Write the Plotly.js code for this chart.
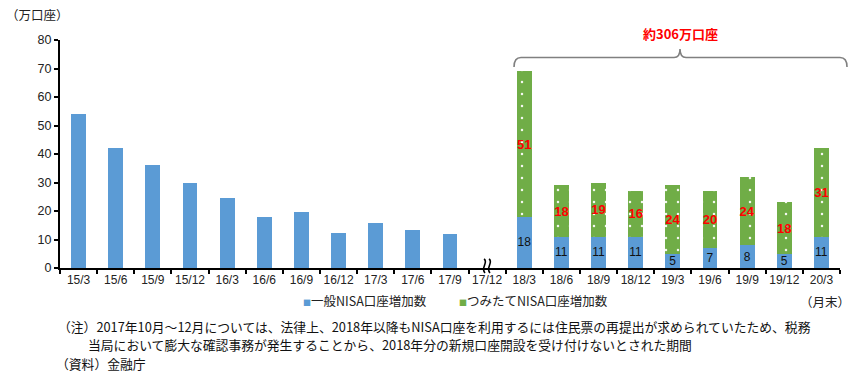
<!DOCTYPE html>
<html>
<head>
<meta charset="utf-8">
<script src="https://cdn.plot.ly/plotly-3.0.1.min.js"></script>
<style>
  html, body { margin: 0; padding: 0; background: #fff; }
  #chart { width: 853px; height: 374px; }
</style>
</head>
<body>
<div id="chart"></div>
<script>
// Month-end periods (year/month)
const months = ['15/3','15/6','15/9','15/12','16/3','16/6','16/9','16/12','17/3','17/6','17/9','17/12',
                '18/3','18/6','18/9','18/12','19/3','19/6','19/9','19/12','20/3'];

// Increase in general NISA accounts (10,000 accounts); 17/12 has no data
const generalNisa = [54, 42, 36, 30, 24.5, 17.8, 19.5, 12.2, 15.8, 13.2, 11.9, null,
                     18, 11, 11, 11, 5, 7, 8, 5, 11];

// Increase in tsumitate NISA accounts (from 2018)
const tsumitateNisa = [null, null, null, null, null, null, null, null, null, null, null, null,
                       51, 18, 19, 16, 24, 20, 24, 18, 31];

// Periods whose bars carry value labels
const labeledFrom = '18/3';

const seriesNames = ['一般NISA口座増加数', 'つみたてNISA口座増加数'];
const yTitle = '（万口座）';
const totalLabel = '約306万口座';
const unitLabel = '（月末）';
const notes = [
  '（注）2017年10月～12月については、法律上、2018年以降もNISA口座を利用するには住民票の再提出が求められていたため、税務',
  '当局において膨大な確認事務が発生することから、2018年分の新規口座開設を受け付けないとされた期間',
  '（資料）金融庁'
];

const BLUE = '#5B9BD5';
const GREEN = '#70AD47';
const JP = '"Noto Sans CJK JP", "Noto Sans", sans-serif';
const NUM = '"Liberation Sans", Arial, sans-serif';

const startIdx = months.indexOf(labeledFrom);
const generalText = generalNisa.map((v, i) => (i >= startIdx && v != null) ? String(v) : '');
const tsumitateText = tsumitateNisa.map(v => v != null ? String(v) : '');

// plot area geometry (pixels) used to place decorations in paper units
const L = 60, R = 840, T = 40, B = 268;
const px = x => (x - L) / (R - L);
const py = y => (B - y) / (B - T);
const P = (x, y) => px(x).toFixed(4) + ',' + py(y).toFixed(4);

const traces = [
  {
    type: 'bar', name: seriesNames[0], x: months, y: generalNisa,
    marker: { color: BLUE },
    text: generalText, textposition: 'inside', insidetextanchor: 'middle',
    textangle: 0, constraintext: 'none',
    textfont: { family: NUM, size: 12, color: '#111' },
    hoverinfo: 'x+y+name'
  },
  {
    type: 'bar', name: seriesNames[1], x: months, y: tsumitateNisa,
    marker: { color: GREEN, pattern: { shape: '.', fillmode: 'replace', bgcolor: GREEN, fgcolor: '#f4f8f0', size: 12, solidity: 0.035 } },
    text: tsumitateText, textposition: 'inside', insidetextanchor: 'middle',
    textangle: 0, constraintext: 'none',
    textfont: { family: NUM, size: 13, color: '#FF0000', weight: 'bold' },
    hoverinfo: 'x+y+name'
  }
];

// brace over the 2018-2020 bars
const brace = 'M' + P(514, 67) + ' Q' + P(514, 57.5) + ' ' + P(521, 57.5) +
              ' L' + P(674, 57.5) + ' Q' + P(680, 57.5) + ' ' + P(680, 49) +
              ' Q' + P(680, 57.5) + ' ' + P(686, 57.5) +
              ' L' + P(840, 57.5) + ' Q' + P(847, 57.5) + ' ' + P(847, 67);

// axis-break mark at 17/12
const wave = x0 => 'M' + P(x0, 259) + ' C' + P(x0 + 5, 262) + ' ' + P(x0 - 4, 268) + ' ' + P(x0 + 1, 273);

const layout = {
  width: 853, height: 374,
  margin: { l: L, r: 853 - R, t: T, b: 374 - B },
  paper_bgcolor: '#fff', plot_bgcolor: '#fff',
  barmode: 'stack', bargap: 0.6,
  showlegend: false,
  font: { family: NUM, size: 12, color: '#222' },
  xaxis: {
    type: 'category', categoryarray: months, categoryorder: 'array',
    showline: true, linecolor: '#000', linewidth: 2,
    ticks: 'outside', tickson: 'boundaries', ticklen: 4, tickwidth: 2, tickcolor: '#000',
    tickangle: 0, tickfont: { family: NUM, size: 12, color: '#222' },
    showgrid: false, zeroline: false, fixedrange: true
  },
  yaxis: {
    range: [0, 80], dtick: 10,
    showline: true, linecolor: '#000', linewidth: 2,
    ticks: 'outside', ticklen: 4, tickwidth: 2, tickcolor: '#000',
    tickfont: { family: NUM, size: 12.5, color: '#222' },
    showgrid: false, zeroline: false, fixedrange: true
  },
  shapes: [
    { type: 'path', xref: 'paper', yref: 'paper', path: brace, line: { color: '#808080', width: 1.6 } },
    { type: 'path', xref: 'paper', yref: 'paper', path: wave(484), line: { color: '#000', width: 1.6 } },
    { type: 'path', xref: 'paper', yref: 'paper', path: wave(489), line: { color: '#000', width: 1.6 } }
  ],
  annotations: [
    { xref: 'paper', yref: 'paper', x: px(4), y: py(14), xanchor: 'left', yanchor: 'middle',
      text: yTitle, showarrow: false, font: { family: JP, size: 12.5, color: '#222' } },
    { xref: 'paper', yref: 'paper', x: px(680), y: py(34), xanchor: 'center', yanchor: 'middle',
      text: '<b>' + totalLabel + '</b>', showarrow: false, font: { family: JP, size: 13, color: '#FF0000' } },
    { xref: 'paper', yref: 'paper', x: px(301), y: py(300), xanchor: 'left', yanchor: 'middle',
      text: '<span style="color:' + BLUE + ';font-size:8px">■</span>' + seriesNames[0],
      showarrow: false, font: { family: JP, size: 12.5, color: '#222' } },
    { xref: 'paper', yref: 'paper', x: px(457), y: py(300), xanchor: 'left', yanchor: 'middle',
      text: '<span style="color:' + GREEN + ';font-size:8px">■</span>' + seriesNames[1],
      showarrow: false, font: { family: JP, size: 12.5, color: '#222' } },
    { xref: 'paper', yref: 'paper', x: px(852), y: py(301), xanchor: 'right', yanchor: 'middle',
      text: unitLabel, showarrow: false, font: { family: JP, size: 12.5, color: '#222' } },
    { xref: 'paper', yref: 'paper', x: px(56), y: py(326), xanchor: 'left', yanchor: 'middle',
      text: notes[0], showarrow: false, font: { family: JP, size: 12.8, color: '#111' } },
    { xref: 'paper', yref: 'paper', x: px(86), y: py(344), xanchor: 'left', yanchor: 'middle',
      text: notes[1], showarrow: false, font: { family: JP, size: 12.8, color: '#111' } },
    { xref: 'paper', yref: 'paper', x: px(54), y: py(363), xanchor: 'left', yanchor: 'middle',
      text: notes[2], showarrow: false, font: { family: JP, size: 12.8, color: '#111' } }
  ]
};

Plotly.newPlot('chart', traces, layout, { displayModeBar: false, staticPlot: true });
</script>
</body>
</html>
